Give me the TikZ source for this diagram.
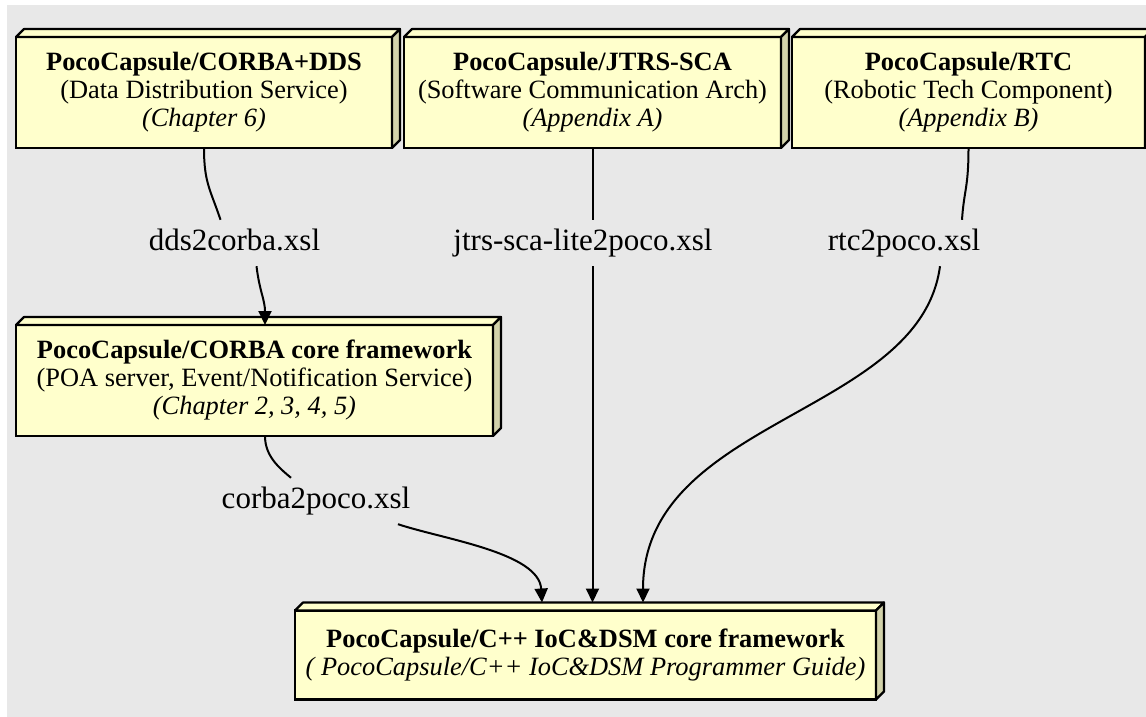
\documentclass[tikz,border=0pt]{standalone}
\usepackage{fontspec}
\setmainfont{Liberation Serif}
\usepackage{tikz}
\usetikzlibrary{calc, arrows.meta}

\definecolor{sfondo}{RGB}{232,232,232}
\definecolor{giallo}{RGB}{255,255,204}
\definecolor{fianco}{RGB}{210,210,170}

\begin{document}
\begin{tikzpicture}[x=1pt, y=-1pt,
    scatola/.style={draw, line width=2.8pt, fill=giallo, outer sep=0pt, inner sep=0pt,
        align=center, minimum height=111pt, font=\fontsize{26.4}{28}\selectfont},
    xsl/.style={inner xsep=2pt, inner ysep=9pt, text height=21pt, text depth=7pt,
        anchor=base, font=\fontsize{31}{34}\selectfont},
    arco/.style={line width=2pt},
    freccia/.style={arco, -{Triangle[length=14pt,width=13pt]}}]
    % sfondo
    \useasboundingbox (0,0) rectangle (1146,717);
    \fill[sfondo] (7,5) rectangle (1146,717);

    % scatole in alto
    \node[scatola, minimum width=376pt] (dds) at (204,92.5)
        {\textbf{PocoCapsule/CORBA+DDS}\\(Data Distribution Service)\\\textit{(Chapter 6)}};
    \node[scatola, minimum width=377pt] (jtrs) at (592.5,92.5)
        {\textbf{PocoCapsule/JTRS-SCA}\\(Software Communication Arch)\\\textit{(Appendix A)}};
    \node[scatola, minimum width=353pt] (rtc) at (968.5,92.5)
        {\textbf{PocoCapsule/RTC}\\(Robotic Tech Component)\\\textit{(Appendix B)}};

    % scatola centrale
    \node[scatola, minimum width=477pt] (corba) at (254.5,380.5)
        {\textbf{PocoCapsule/CORBA core framework}\\(POA server, Event/Notification Service)\\\textit{(Chapter 2, 3, 4, 5)}};

    % scatola in basso
    \node[scatola, minimum width=581pt, minimum height=89pt] (cpp) at (585.5,655)
        {\textbf{PocoCapsule/C++ IoC\&DSM core framework}\\\textit{( PocoCapsule/C++ IoC\&DSM Programmer Guide)}};

    % effetto 3D
    \foreach \n in {dds,jtrs,rtc,corba,cpp} {
        \filldraw[fill=giallo, line width=2.2pt, line join=round]
            (\n.north west) -- ++(8,-8) -- ($(\n.north east)+(8,-8)$) -- (\n.north east) -- cycle;
        \filldraw[fill=fianco, line width=2.2pt, line join=round]
            (\n.north east) -- ++(8,-8) -- ($(\n.south east)+(8,-8)$) -- (\n.south east) -- cycle;
    }

    % etichette
    \node[xsl] (l1) at (234.5,250) {dds2corba.xsl};
    \node[xsl] (l2) at (583,250) {jtrs-sca-lite2poco.xsl};
    \node[xsl] (l3) at (904,250) {rtc2poco.xsl};
    \node[xsl] (l4) at (316,508) {corba2poco.xsl};

    % dds -> corba
    \draw[arco] (dds.south) .. controls +(0,35) and +(-10,-30) .. ([xshift=-14pt]l1.north);
    \draw[freccia] ([xshift=22pt]l1.south) .. controls +(3,25) and +(0,-25) .. ([xshift=10.5pt]corba.north);

    % jtrs -> cpp
    \draw[arco] (jtrs.south) -- (jtrs.south |- l2.north);
    \draw[freccia] (jtrs.south |- l2.south) -- ([yshift=8pt]jtrs.south |- cpp.north);

    % rtc -> cpp
    \draw[arco] (rtc.south) .. controls +(0,40) and +(2,-30) .. ([xshift=58pt]l3.north);
    \draw[freccia] ([xshift=36pt]l3.south) .. controls +(-20,150) and +(0,-185) .. ([xshift=57.5pt,yshift=8pt]cpp.north);

    % corba -> cpp
    \draw[arco] ([xshift=10.5pt]corba.south) .. controls +(0,20) and +(-12,-10) .. ([xshift=-25pt]l4.north);
    \draw[freccia] ([xshift=82pt]l4.south) .. controls +(45,15) and +(-3,-50) .. ([xshift=-43.5pt,yshift=8pt]cpp.north);
\end{tikzpicture}
\end{document}
